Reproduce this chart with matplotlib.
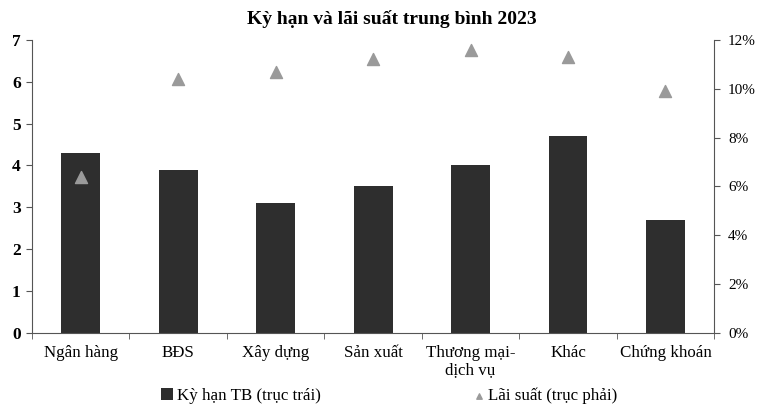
import matplotlib
matplotlib.use("Agg")
import matplotlib.pyplot as plt
from matplotlib.ticker import FuncFormatter
import numpy as np

categories = ["Ngân hàng", "BĐS", "Xây dựng", "Sản xuất", "Thương mại-\ndịch vụ", "Khác", "Chứng khoán"]
ky_han = [4.3, 3.9, 3.1, 3.5, 4.0, 4.7, 2.7]
lai_suat = [6.4, 10.4, 10.7, 11.2, 11.6, 11.3, 9.9]
left_ticks = [0, 1, 2, 3, 4, 5, 6, 7]
right_ticks = [0, 2, 4, 6, 8, 10, 12]

plt.rcParams['font.family'] = ['Liberation Serif', 'DejaVu Serif']

fig = plt.figure(figsize=(7.59, 4.07), dpi=100)
ax = fig.add_axes([0.042, 0.182, 0.899, 0.72])
x = np.arange(len(categories))
bars = ax.bar(x, ky_han, width=0.40, color="#2e2e2e", label="Kỳ hạn TB (trục trái)", zorder=2)
ax.set_xlim(-0.5, len(categories) - 0.5)
ax.set_ylim(0, 7)
ax.set_yticks(left_ticks)
ax.set_yticklabels([str(t) for t in left_ticks], fontsize=12.5, fontweight="bold")
ax.set_xticks(x)
ax.set_xticklabels(categories, fontsize=12.2, linespacing=1.05)
ax.tick_params(axis="x", length=0, pad=9)
ax.set_xticks(np.arange(len(categories) + 1) - 0.5, minor=True)
ax.tick_params(axis="x", which="minor", length=4, direction="out", color="#555")
ax.tick_params(axis="y", length=4, direction="out", color="#555", pad=4)
for s in ["top", "right"]:
    ax.spines[s].set_visible(False)
for s in ["left", "bottom"]:
    ax.spines[s].set_color("#555")

ax2 = ax.twinx()
tri = ax2.scatter(x, lai_suat, marker="^", s=75, color="#9a9a9a", label="Lãi suất (trục phải)", zorder=3)
ax2.set_ylim(0, 12)
ax2.set_yticks(right_ticks)
ax2.yaxis.set_major_formatter(FuncFormatter(lambda v, p: f"{int(v)}%"))
ax2.tick_params(axis="y", length=4, direction="out", color="#555", labelsize=11, pad=6)
for s in ["top", "left", "bottom"]:
    ax2.spines[s].set_visible(False)
ax2.spines["right"].set_color("#555")

fig.suptitle("Kỳ hạn và lãi suất trung bình 2023", x=0.516, y=0.975, fontsize=14, fontweight="bold")

fig.legend([bars, tri], ["Kỳ hạn TB (trục trái)", "Lãi suất (trục phải)"],
           loc="lower center", bbox_to_anchor=(0.513, -0.03), ncol=2, frameon=False,
           fontsize=12.2, columnspacing=9.0, handlelength=0.7, handletextpad=0.2, markerscale=0.45)

fig.savefig("out.png", dpi=100)
